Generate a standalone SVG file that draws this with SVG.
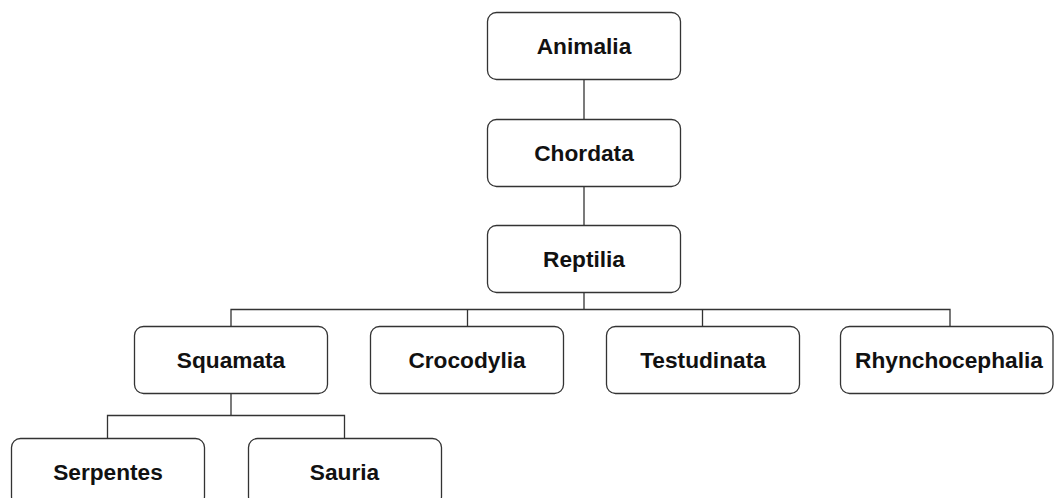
<svg xmlns="http://www.w3.org/2000/svg" width="1054" height="498" viewBox="0 0 1054 498">
<style>
.box{fill:#fff;stroke:#333;stroke-width:1.3}
.lbl{font-family:"Liberation Sans",Arial,sans-serif;font-weight:bold;font-size:22.7px;fill:#111;text-anchor:middle}
.edge{fill:none;stroke:#333;stroke-width:1.3}
</style>
<rect width="1054" height="498" fill="#fff"/>
<g id="connectors">
<path class="edge" d="M584 79.5V119.5"/>
<path class="edge" d="M584 186.5V225.5"/>
<path class="edge" d="M584 292.5V309.5"/>
<path class="edge" d="M231 326.5V309.5H950V326.5"/>
<path class="edge" d="M467.5 309.5V326.5"/>
<path class="edge" d="M702.5 309.5V326.5"/>
<path class="edge" d="M231 393.5V415.5"/>
<path class="edge" d="M107.5 438.5V415.5H344.5V438.5"/>
</g>
<g id="animalia"><rect class="box" x="487.5" y="12.5" width="193" height="67" rx="9"/><text class="lbl" x="584" y="54">Animalia</text></g>
<g id="chordata"><rect class="box" x="487.5" y="119.5" width="193" height="67" rx="9"/><text class="lbl" x="584" y="161">Chordata</text></g>
<g id="reptilia"><rect class="box" x="487.5" y="225.5" width="193" height="67" rx="9"/><text class="lbl" x="584" y="267">Reptilia</text></g>
<g id="squamata"><rect class="box" x="134.5" y="326.5" width="193" height="67" rx="9"/><text class="lbl" x="231" y="368">Squamata</text></g>
<g id="crocodylia"><rect class="box" x="370.5" y="326.5" width="193" height="67" rx="9"/><text class="lbl" x="467" y="368">Crocodylia</text></g>
<g id="testudinata"><rect class="box" x="606.5" y="326.5" width="193" height="67" rx="9"/><text class="lbl" x="703" y="368">Testudinata</text></g>
<g id="rhynchocephalia"><rect class="box" x="840.5" y="326.5" width="212.5" height="67" rx="9"/><text class="lbl" x="949" y="368">Rhynchocephalia</text></g>
<g id="serpentes"><rect class="box" x="11.5" y="438.5" width="193" height="67" rx="9"/><text class="lbl" x="108" y="480">Serpentes</text></g>
<g id="sauria"><rect class="box" x="248.5" y="438.5" width="193" height="67" rx="9"/><text class="lbl" x="344.5" y="480">Sauria</text></g>
</svg>
